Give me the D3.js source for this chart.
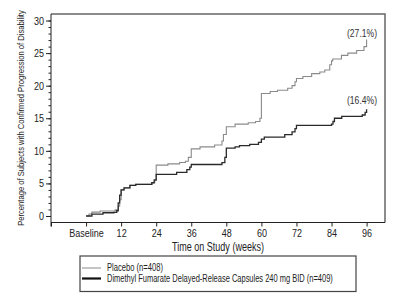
<!DOCTYPE html>
<html>
<head>
<meta charset="utf-8">
<script src="https://cdn.jsdelivr.net/npm/d3@7"></script>
<style>
  body { margin: 0; background: #fff; }
  svg text { font-family: "Liberation Sans Narrow", "Arial Narrow", "Liberation Sans", sans-serif; fill: #222; }
</style>
</head>
<body>
<svg id="chart" width="400" height="304"></svg>
<script>
// time axis (weeks) ticks
const tickWeeks = [-12, 0, 12, 24, 36, 48, 60, 72, 84, 96];
const tickLabels = ["", "Baseline", "12", "24", "36", "48", "60", "72", "84", "96"];
const yTicks = [0, 5, 10, 15, 20, 25, 30];

// Placebo (n=408), cumulative % with confirmed progression
const placeboWeeks = [0, 1, 2, 4.8, 10, 11, 11.5, 12, 13, 15, 17, 22.5, 23.5, 24, 28, 32, 34, 35, 36, 39, 44, 46.5, 47, 48,
  51, 55.5, 58, 59.5, 60, 63, 65.5, 69, 70.5, 71.5, 72, 74.2, 77.2, 80, 81.7, 83.4, 84, 84.4, 87.4, 89.6, 92.6, 95.1, 96];
const placeboPct = [0, 0.3, 0.6, 0.77, 0.94, 1.5, 2.5, 4.0, 4.3, 4.7, 4.85, 5.1, 5.6, 7.8, 8.0, 8.2, 8.4, 9.0, 10.3, 10.6, 10.9, 11.5, 12.5, 13.7,
  14.1, 14.3, 14.5, 15.0, 18.8, 19.1, 19.3, 19.6, 20.0, 20.6, 21.1, 21.4, 21.85, 22.1, 22.4, 23.2, 23.8, 24.1, 24.65, 25.0, 25.4, 26.0, 27.1];

// Dimethyl fumarate 240 mg BID (n=409)
const dmfWeeks = [0, 2, 5.8, 9.5, 10.5, 11, 11.5, 12, 13, 15, 17, 22.5, 23.3, 24, 31, 34.5, 35.5, 36, 46.5, 47.5, 48,
  51, 52.5, 56, 59, 60, 61, 68, 70.5, 71.5, 72, 84, 84.5, 85, 87.5, 94.5, 95.5, 96];
const dmfPct = [0, 0.3, 0.5, 0.55, 0.8, 2.0, 3.2, 4.0, 4.3, 4.7, 4.85, 5.1, 5.5, 6.4, 6.7, 7.1, 7.5, 7.9, 8.2, 9.0, 10.4,
  10.6, 10.8, 11.0, 11.3, 11.8, 12.1, 12.5, 12.9, 13.4, 13.9, 14.1, 14.5, 15.0, 15.3, 15.5, 15.9, 16.4];

const seriesNames = ["Placebo (n=408)", "Dimethyl Fumarate Delayed-Release Capsules 240 mg BID (n=409)"];
const endLabels = ["(27.1%)", "(16.4%)"];

const svg = d3.select("#chart");
const pL = 51, pR = 385, pT = 14, pB = 222.5;

const x = d3.scaleLinear().domain([-12, 102.3]).range([pL, pR]);
const y = d3.scaleLinear().domain([-1, 31]).range([pB, pT]);

// squeeze text horizontally (no narrow font installed)
// width given -> fit to it, else use a fixed factor
function narrow(sel, width, pre) {
  sel.each(function() {
    const t = d3.select(this);
    const w0 = this.getComputedTextLength();
    if (!w0) return;
    const k = width ? width / w0 : 0.82;
    const x0 = +t.attr("x") || 0;
    t.attr("x", x0 / k).attr("transform", (pre || "") + ` scale(${k},1)`);
  });
}

// frame top & right
svg.append("path")
  .attr("d", `M${pL},${pT}H${pR}V${pB}`)
  .attr("fill", "none").attr("stroke", "#666").attr("stroke-width", 1.5);

// y axis with minor ticks
const yMinor = d3.range(0, 31, 1);
svg.append("g")
  .attr("transform", `translate(${pL},0)`)
  .call(d3.axisLeft(y).tickValues(yMinor).tickSize(2.5).tickFormat(""))
  .call(g => g.select(".domain").remove());
const yAx = svg.append("g")
  .attr("transform", `translate(${pL},0)`)
  .call(d3.axisLeft(y).tickValues(yTicks).tickSize(5).tickPadding(2));
yAx.selectAll("text").attr("font-size", 11).call(narrow);
yAx.select(".domain").attr("d", `M0,${pT}V${pB + 4}`);

// x axis
const xAx = svg.append("g")
  .attr("transform", `translate(0,${pB})`)
  .call(d3.axisBottom(x).tickValues(tickWeeks).tickSize(4).tickPadding(3)
    .tickFormat((d, i) => tickLabels[i]));
xAx.selectAll("text").attr("font-size", 11).call(narrow);
xAx.select(".domain").attr("d", `M${pL},0H${pR}`);
svg.selectAll(".tick line, .domain").attr("stroke", "#222");

// axis titles
svg.append("text")
  .attr("y", 251)
  .attr("text-anchor", "middle").attr("font-size", 12)
  .text("Time on Study (weeks)")
  .call(narrow, 92, "translate(218,0)");
svg.append("text")
  .attr("text-anchor", "middle").attr("font-size", 9.8)
  .text("Percentage of Subjects with Confirmed Progression of Disability")
  .call(narrow, 216, "translate(24,118) rotate(-90)");

// curves
const line = d3.line().x(d => x(d[0])).y(d => y(d[1])).curve(d3.curveStepAfter);
const placebo = placeboWeeks.map((w, i) => [w, placeboPct[i]]);
const dmf = dmfWeeks.map((w, i) => [w, dmfPct[i]]);

svg.append("path").datum(placebo)
  .attr("d", line).attr("fill", "none").attr("stroke", "#8a8a8a").attr("stroke-width", 1.1);
svg.append("path").datum(dmf)
  .attr("d", line).attr("fill", "none").attr("stroke", "#2a2a2a").attr("stroke-width", 1.3);

// end labels
[[endLabels[0], 37], [endLabels[1], 104]].forEach(([t, ty]) => {
  svg.append("text").attr("y", ty).attr("text-anchor", "middle")
    .attr("font-size", 10.5).style("fill", "#333")
    .text(t).call(narrow, 30, "translate(362,0)");
});

// legend
const lg = svg.append("g");
lg.append("rect").attr("x", 80).attr("y", 256).attr("width", 276).attr("height", 35.5)
  .attr("fill", "#fff").attr("stroke", "#444").attr("stroke-width", 1.2);
const legendStyles = [{ c: "#8a8a8a", w: 1 }, { c: "#111", w: 2.2 }];
const legendWidths = [56, 226];
seriesNames.forEach((name, i) => {
  const ly = 268 + i * 10.5;
  lg.append("line").attr("x1", 82).attr("x2", 101).attr("y1", ly).attr("y2", ly)
    .attr("stroke", legendStyles[i].c).attr("stroke-width", legendStyles[i].w);
  lg.append("text").attr("y", ly + 3.5).attr("font-size", 10.2)
    .text(name).call(narrow, legendWidths[i], "translate(107,0)");
});
</script>
</body>
</html>
